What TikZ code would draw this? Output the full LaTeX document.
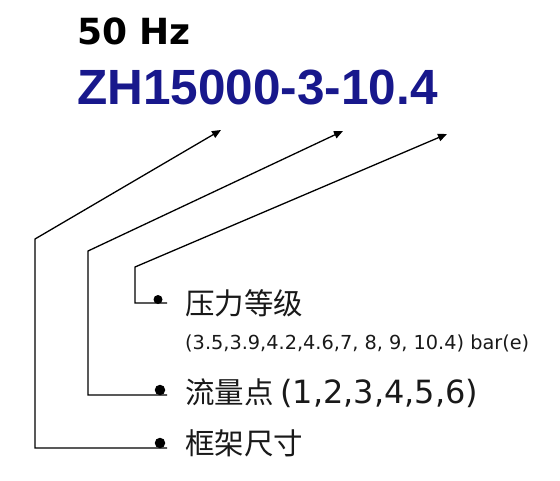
\documentclass[tikz,border=0pt]{standalone}
\usepackage{fontspec}
\setmainfont{DejaVu Sans}
\newfontfamily\cjkf{Noto Sans CJK SC}
\newfontfamily\arialf{Liberation Sans}
\newfontfamily\verdf{DejaVu Sans}
\usetikzlibrary{arrows.meta}
\definecolor{zhblue}{RGB}{24,24,140}
\definecolor{lbl}{RGB}{25,25,25}
\tikzset{
  conn/.style={line width=1.3pt, black, -{Triangle[length=9pt,width=7.5pt]}},
  dotmark/.style={circle, fill=black, inner sep=0pt, minimum size=#1},
  lab/.style={anchor=base west, inner sep=0pt, text=lbl},
}
\begin{document}
\begin{tikzpicture}[x=1pt,y=-1pt]
\useasboundingbox (0,0) rectangle (560,480);
% titles
\node[anchor=base west, inner sep=0pt] (hz) at (77,44)
  {\verdf\bfseries\fontsize{36pt}{36pt}\selectfont 50 Hz};
\node[anchor=base west, inner sep=0pt, text=zhblue] (zh) at (77,104)
  {\arialf\bfseries\fontsize{49.5pt}{49.5pt}\selectfont ZH15000-3-10.4};
% coordinates
\coordinate (t1) at (221,130);
\coordinate (c1) at (35,239);
\coordinate (b1) at (35,448);
\coordinate (e1) at (167,448);
\coordinate (t2) at (343,131);
\coordinate (c2) at (88,251);
\coordinate (b2) at (88,395);
\coordinate (e2) at (167,395);
\coordinate (t3) at (447,134);
\coordinate (c3) at (135,267);
\coordinate (b3) at (135,303);
\coordinate (e3) at (167,303);
% connectors
\draw[conn] (e1) -- (b1) -- (c1) -- (t1);
\draw[conn] (e2) -- (b2) -- (c2) -- (t2);
\draw[conn] (e3) -- (b3) -- (c3) -- (t3);
% dots
\node[dotmark=10.5pt] (d1) at (160,443) {};
\node[dotmark=10.5pt] (d2) at (160,390) {};
\node[dotmark=9pt] (d3) at (158,299.5) {};
% labels
\node[lab] (l3) at (185,314) {\cjkf\fontsize{29.5pt}{29.5pt}\selectfont 压力等级};
\node[lab] (l3b) at (185,349) {\verdf\fontsize{19.3pt}{19.3pt}\selectfont (3.5,3.9,4.2,4.6,7, 8, 9, 10.4) bar(e)};
\node[lab] (l2) at (185,403) {\cjkf\fontsize{29.5pt}{29.5pt}\selectfont 流量点\ {\verdf\fontsize{32pt}{32pt}\selectfont (1,2,3,4,5,6)}};
\node[lab] (l1) at (185,454) {\cjkf\fontsize{29.5pt}{29.5pt}\selectfont 框架尺寸};
\end{tikzpicture}
\end{document}
